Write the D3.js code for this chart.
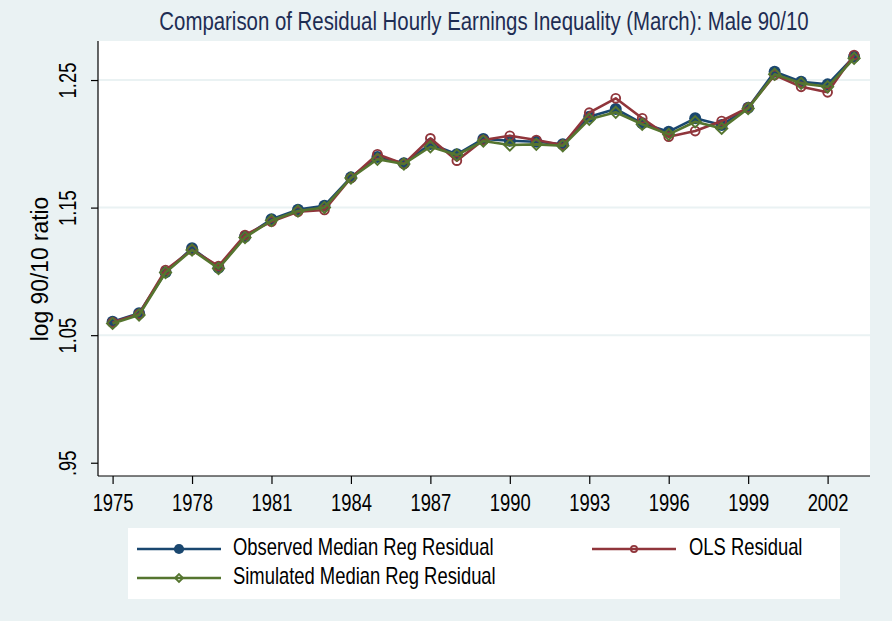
<!DOCTYPE html>
<html>
<head>
<meta charset="utf-8">
<script src="https://cdn.jsdelivr.net/npm/d3@7"></script>
<style>
  html, body { margin: 0; padding: 0; background: #EAF2F3; }
  svg { display: block; }
  text { font-family: "Liberation Sans", Arial, sans-serif; }
</style>
</head>
<body>
<svg id="chart" width="892" height="621"></svg>
<script>
// Survey years
const years = [1975, 1976, 1977, 1978, 1979, 1980, 1981, 1982, 1983, 1984,
               1985, 1986, 1987, 1988, 1989, 1990, 1991, 1992, 1993, 1994,
               1995, 1996, 1997, 1998, 1999, 2000, 2001, 2002, 2003];

// log 90/10 ratios of residual hourly earnings, men
const observedMedian = [1.0606, 1.0672, 1.0993, 1.1181, 1.1029, 1.1272, 1.1408, 1.1484, 1.1515, 1.1737,
                        1.1896, 1.1847, 1.1998, 1.1918, 1.2038, 1.2024, 1.2016, 1.1996, 1.2212, 1.2273,
                        1.2161, 1.2095, 1.2200, 1.2147, 1.2283, 1.2565, 1.2487, 1.2466, 1.2683];
const olsResidual    = [1.0600, 1.0666, 1.1011, 1.1168, 1.1042, 1.1285, 1.1390, 1.1468, 1.1481, 1.1732,
                        1.1918, 1.1842, 1.2043, 1.1868, 1.2030, 1.2063, 1.2030, 1.1991, 1.2244, 1.2357,
                        1.2200, 1.2056, 1.2100, 1.2179, 1.2283, 1.2539, 1.2447, 1.2404, 1.2696];
const simulatedMedian = [1.0592, 1.0658, 1.0991, 1.1168, 1.1023, 1.1266, 1.1399, 1.1473, 1.1501, 1.1732,
                         1.1879, 1.1842, 1.1977, 1.1912, 1.2022, 1.1991, 1.1996, 1.1985, 1.2192, 1.2247,
                         1.2153, 1.2074, 1.2173, 1.2121, 1.2277, 1.2545, 1.2474, 1.2447, 1.2670];

const xTicks = [1975, 1978, 1981, 1984, 1987, 1990, 1993, 1996, 1999, 2002];
const yTicks = [0.95, 1.05, 1.15, 1.25];
const yTickLabels = [".95", "1.05", "1.15", "1.25"];

const titleText = "Comparison of Residual Hourly Earnings Inequality (March): Male 90/10";
const yTitle = "log 90/10 ratio";

const seriesNames = ["Observed Median Reg Residual", "OLS Residual", "Simulated Median Reg Residual"];
const seriesColors = ["#1A476F", "#90353B", "#55752F"];

// ---- layout ----
const W = 892, H = 621;
const plot = { left: 98, right: 870, top: 41, bottom: 476 };
const NARROW = 0.8;   // condensed look: squeeze glyphs horizontally

// squeeze each text element horizontally (in its own writing direction)
function narrow(sel, f = NARROW) {
  sel.each(function () {
    const t = d3.select(this);
    const tx = +t.attr("x") || 0, ty = +t.attr("y") || 0;
    const prev = t.attr("transform") || "";
    t.attr("x", 0).attr("y", 0)
     .attr("transform", `${prev} translate(${tx},${ty}) scale(${f},1)`);
  });
}

const svg = d3.select("#chart");

svg.append("rect").attr("width", W).attr("height", H).attr("fill", "#EAF2F3");
svg.append("rect")
  .attr("x", plot.left).attr("y", plot.top)
  .attr("width", plot.right - plot.left).attr("height", plot.bottom - plot.top)
  .attr("fill", "#ffffff");

const x = d3.scaleLinear().domain([1974.449, 2003.601]).range([plot.left, plot.right]);
const y = d3.scaleLinear().domain([0.9396, 1.2806]).range([plot.bottom, plot.top]);

// horizontal gridlines
svg.append("g").selectAll("line")
  .data(yTicks.filter(v => v > 1))
  .join("line")
  .attr("x1", plot.left).attr("x2", plot.right)
  .attr("y1", d => y(d)).attr("y2", d => y(d))
  .attr("stroke", "#EAF2F3").attr("stroke-width", 2);

// y axis
const yAxis = svg.append("g")
  .attr("transform", `translate(${plot.left},0)`)
  .call(d3.axisLeft(y).tickValues(yTicks).tickSize(7).tickPadding(0)
        .tickFormat((d, i) => yTickLabels[i]));
yAxis.select(".domain").attr("d", `M0,${plot.top}V${plot.bottom}`).attr("stroke", "#000").attr("stroke-width", 1.2);
yAxis.selectAll(".tick line").attr("stroke", "#000").attr("stroke-width", 1.2);
yAxis.selectAll(".tick text")
  .attr("x", 0).attr("dy", null)
  .attr("transform", "translate(-28,0) rotate(-90)")
  .attr("text-anchor", "middle")
  .attr("dominant-baseline", "middle")
  .attr("fill", "#000")
  .style("font-size", "23px")
  .call(narrow);

// x axis
const xAxis = svg.append("g")
  .attr("transform", `translate(0,${plot.bottom})`)
  .call(d3.axisBottom(x).tickValues(xTicks).tickSize(8).tickPadding(0).tickFormat(d3.format("d")));
xAxis.select(".domain").attr("d", `M${plot.left},0H${plot.right}`).attr("stroke", "#000").attr("stroke-width", 1.2);
xAxis.selectAll(".tick line").attr("stroke", "#000").attr("stroke-width", 1.2);
xAxis.selectAll(".tick text")
  .attr("y", 29).attr("dy", null)
  .attr("dominant-baseline", "middle")
  .attr("fill", "#000")
  .style("font-size", "23px")
  .call(narrow);

// axis title
svg.append("text")
  .attr("transform", `translate(42,269) rotate(-90)`)
  .attr("text-anchor", "middle")
  .attr("dominant-baseline", "middle")
  .style("font-size", "24px")
  .attr("fill", "#000")
  .text(yTitle)
  .call(narrow, 0.95);

// chart title
svg.append("text")
  .attr("x", 484).attr("y", 23)
  .attr("text-anchor", "middle")
  .attr("dominant-baseline", "middle")
  .style("font-size", "25.5px")
  .attr("fill", "#1E2D53")
  .text(titleText)
  .call(narrow);

// ---- series ----
const allSeries = [observedMedian, olsResidual, simulatedMedian];
const line = d3.line().x((d, i) => x(years[i])).y(d => y(d));

const markerDraw = [
  // filled circle
  (g, cx, cy, c, s) => g.append("circle").attr("cx", cx).attr("cy", cy).attr("r", 6 * s).attr("fill", c),
  // hollow circle
  (g, cx, cy, c, s) => g.append("circle").attr("cx", cx).attr("cy", cy).attr("r", 4.4 * s)
      .attr("fill", "none").attr("stroke", c).attr("stroke-width", 1.9),
  // hollow diamond
  (g, cx, cy, c, s) => {
    const r = 5.6 * s;
    g.append("path").attr("d", `M${cx},${cy - r}L${cx + r},${cy}L${cx},${cy + r}L${cx - r},${cy}Z`)
      .attr("fill", "none").attr("stroke", c).attr("stroke-width", 1.9);
  }
];

allSeries.forEach((vals, k) => {
  const g = svg.append("g");
  g.append("path").datum(vals)
    .attr("d", line)
    .attr("fill", "none")
    .attr("stroke", seriesColors[k])
    .attr("stroke-width", 2.6)
    .attr("stroke-linejoin", "round");
  vals.forEach((v, i) => markerDraw[k](g, x(years[i]), y(v), seriesColors[k], 1));
});

// ---- legend ----
const leg = svg.append("g");
leg.append("rect").attr("x", 128).attr("y", 528).attr("width", 712).attr("height", 71).attr("fill", "#ffffff");
const legItems = [
  { x0: 137, x1: 221, tx: 233, cy: 549 },
  { x0: 592, x1: 676, tx: 689, cy: 549 },
  { x0: 137, x1: 221, tx: 233, cy: 578 }
];
legItems.forEach((it, k) => {
  leg.append("line").attr("x1", it.x0).attr("x2", it.x1).attr("y1", it.cy).attr("y2", it.cy)
    .attr("stroke", seriesColors[k]).attr("stroke-width", 2.6);
  markerDraw[k](leg, (it.x0 + it.x1) / 2, it.cy, seriesColors[k], k === 0 ? 0.85 : 0.7);
  leg.append("text").attr("x", it.tx).attr("y", it.cy)
    .attr("dominant-baseline", "middle")
    .style("font-size", "23px")
    .attr("fill", "#000")
    .text(seriesNames[k])
    .call(narrow);
});
</script>
</body>
</html>
